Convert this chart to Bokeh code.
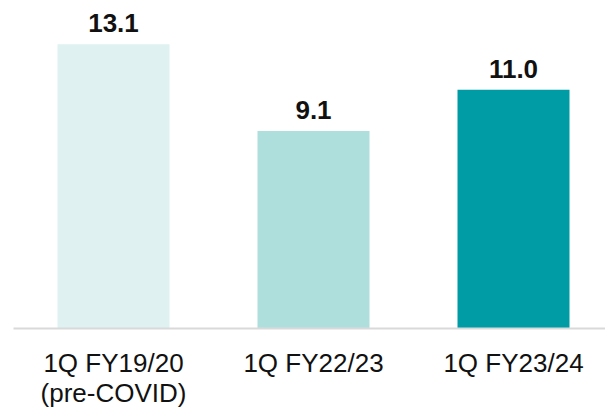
from bokeh.plotting import figure
from bokeh.models import ColumnDataSource, Range1d, FixedTicker
from bokeh.core.properties import value
from bokeh.embed import file_html
from bokeh.resources import INLINE

categories = ["1Q FY19/20\n(pre-COVID)", "1Q FY22/23", "1Q FY23/24"]
values = [13.1, 9.1, 11.0]
labels = ["13.1", "9.1", "11.0"]
colors = ["#dff1f1", "#aedfdd", "#009ca6"]

xs = list(range(len(categories)))
src = ColumnDataSource(dict(x=xs, top=values, label=labels, color=colors))

p = figure(width=605, height=410, output_backend="svg", toolbar_location=None,
           x_range=Range1d(-0.5, 2.46), y_range=Range1d(0, 15.11),
           y_axis_location=None, min_border_left=13, min_border_right=0,
           min_border_top=0, min_border_bottom=79)
p.outline_line_color = None
p.xgrid.visible = False
p.ygrid.visible = False
p.background_fill_color = "white"
p.border_fill_color = "white"

p.vbar(x="x", top="top", width=0.56, bottom=0, color="color", line_color=None, source=src)
p.text(x="x", y="top", text="label", source=src, y_offset=-21,
       text_align="center", text_baseline="alphabetic",
       text_font=value("Liberation Sans"), text_font_style="bold",
       text_font_size="26px", text_color="#111111")

ax = p.xaxis[0]
ax.ticker = FixedTicker(ticks=xs)
ax.major_label_overrides = {i: c for i, c in zip(xs, categories)}
ax.axis_line_color = "#d9d9d9"
ax.axis_line_width = 2
ax.major_tick_line_color = None
ax.minor_tick_line_color = None
ax.major_tick_out = 0
ax.major_tick_in = 0
ax.major_label_standoff = 19
ax.major_label_text_font = "Liberation Sans"
ax.major_label_text_font_size = "26px"
ax.major_label_text_line_height = 1.0
ax.major_label_text_color = "#111111"

open("out.html", "w").write(file_html(p, INLINE))
